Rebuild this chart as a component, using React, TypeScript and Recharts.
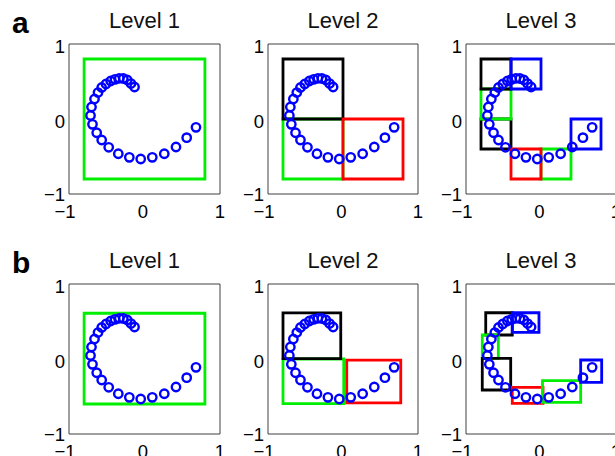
import React from 'react';
import { ScatterChart, Scatter, XAxis, YAxis, ReferenceArea } from 'recharts';

// ---- data ----
const spiralX = [-0.132, -0.179, -0.228, -0.281, -0.334, -0.391, -0.448, -0.51, -0.567, -0.616, -0.662, -0.702, -0.715, -0.689, -0.633, -0.567, -0.474, -0.347, -0.201, -0.05, 0.103, 0.262, 0.417, 0.559, 0.682];
const spiralY = [0.427, 0.473, 0.52, 0.54, 0.543, 0.529, 0.507, 0.467, 0.42, 0.353, 0.267, 0.16, 0.047, -0.071, -0.183, -0.28, -0.377, -0.463, -0.511, -0.533, -0.511, -0.463, -0.373, -0.249, -0.111];

const axisTicks = [-1, 0, 1];
const rowLabels = ['a', 'b'];
const levelTitles = ['Level 1', 'Level 2', 'Level 3'];

// boxes: [x1, x2, y1, y2]
const boxesA1 = [[-0.8, 0.8, -0.8, 0.8]];
const colorsA1 = ['green'];
const boxesA2 = [[-0.8, 0, -0.8, 0], [-0.8, 0, 0, 0.8], [0, 0.8, -0.8, 0]];
const colorsA2 = ['green', 'black', 'red'];
const boxesA3 = [[-0.8, -0.4, -0.4, 0], [-0.8, -0.4, 0, 0.4], [-0.8, -0.4, 0.4, 0.8], [-0.4, 0, 0.4, 0.8], [0, 0.4, -0.8, -0.4], [-0.4, 0, -0.8, -0.4], [0.4, 0.8, -0.4, 0]];
const colorsA3 = ['black', 'green', 'black', 'blue', 'green', 'red', 'blue'];

const boxesB1 = [[-0.8, 0.8, -0.6, 0.61]];
const colorsB1 = ['green'];
const boxesB2 = [[-0.8, 0.01, -0.595, 0], [-0.8, -0.03, 0.005, 0.615], [0.05, 0.77, -0.585, -0.015]];
const colorsB2 = ['green', 'black', 'red'];
const boxesB3 = [[-0.737, -0.383, 0.32, 0.617], [-0.383, -0.027, 0.356, 0.617], [-0.783, -0.569, 0.009, 0.32], [-0.783, -0.404, -0.413, 0.009], [-0.383, 0.027, -0.591, -0.377], [0.02, 0.529, -0.577, -0.289], [0.529, 0.809, -0.311, -0.013]];
const colorsB3 = ['black', 'blue', 'green', 'black', 'red', 'green', 'blue'];

// ---- styles ----
const FONT = '"Liberation Sans", Arial, Helvetica, sans-serif';
const AXIS_COLOR = '#404040';
const COLOR_MAP: Record<string, string> = { green: '#00ee00', black: '#000000', red: '#ff0000', blue: '#0000ff' };

const fmt = (v: number) => (v < 0 ? '\u2212' + Math.abs(v) : String(v));

function XTick(props: any) {
  const { x, y, payload } = props;
  const v = payload.value;
  const dx = v === -1 ? -4 : v === 0 ? -1.5 : 0;
  return (
    <text x={x + dx} y={y + 23.5} textAnchor="middle" fontSize={18.5} fontFamily={FONT} fill="#000">
      {fmt(v)}
    </text>
  );
}

function YTick(props: any) {
  const { x, y, payload } = props;
  const v = payload.value;
  const dy = v === -1 ? 6.5 : 9;
  return (
    <text x={x - 4} y={y + dy} textAnchor="end" fontSize={18.5} fontFamily={FONT} fill="#000">
      {fmt(v)}
    </text>
  );
}

const Ring = (p: any) => (
  <circle cx={p.cx} cy={p.cy} r={4.2} fill="none" stroke="#0000ff" strokeWidth={2.4} />
);

const PLOT_H = 150;
const ML = 50, MT = 10, MR = 10, XH = 30;

function Panel({ left, top, width, boxes, colors }: any) {
  const data = spiralX.map((x, i) => ({ x, y: spiralY[i] }));
  return (
    <div style={{ position: 'absolute', left: left - ML, top: top - MT }}>
      <ScatterChart width={ML + width + MR} height={MT + PLOT_H + XH} margin={{ top: MT, right: MR, bottom: 0, left: 0 }}>
        <XAxis type="number" dataKey="x" domain={[-1, 1]} ticks={axisTicks} allowDataOverflow interval={0}
          tick={<XTick />} tickLine={false} tickSize={0} tickMargin={0} height={XH} axisLine={{ stroke: AXIS_COLOR }} />
        <XAxis xAxisId="xm" type="number" orientation="bottom" mirror domain={[-1, 1]} ticks={axisTicks} allowDataOverflow interval={0}
          tick={false} tickLine={{ stroke: AXIS_COLOR }} tickSize={4} axisLine={false} height={XH} />
        <XAxis xAxisId="xt" type="number" orientation="top" mirror domain={[-1, 1]} ticks={axisTicks} allowDataOverflow interval={0}
          tick={false} tickLine={{ stroke: AXIS_COLOR }} tickSize={4} axisLine={{ stroke: AXIS_COLOR }} height={XH} />
        <YAxis type="number" dataKey="y" domain={[-1, 1]} ticks={axisTicks} allowDataOverflow interval={0}
          tick={<YTick />} tickLine={false} tickSize={0} tickMargin={0} width={ML} axisLine={{ stroke: AXIS_COLOR }} />
        <YAxis yAxisId="ym" type="number" orientation="left" mirror domain={[-1, 1]} ticks={axisTicks} allowDataOverflow interval={0}
          tick={false} tickLine={{ stroke: AXIS_COLOR }} tickSize={4} axisLine={false} width={ML} />
        <YAxis yAxisId="yr" type="number" orientation="right" mirror domain={[-1, 1]} ticks={axisTicks} allowDataOverflow interval={0}
          tick={false} tickLine={{ stroke: AXIS_COLOR }} tickSize={4} axisLine={{ stroke: AXIS_COLOR }} width={ML} />
        {boxes.map((b: number[], i: number) => (
          <ReferenceArea key={i} x1={b[0]} x2={b[1]} y1={b[2]} y2={b[3]} fill="none" fillOpacity={0}
            stroke={COLOR_MAP[colors[i]]} strokeWidth={2.8} strokeOpacity={1} ifOverflow="visible" />
        ))}
        <Scatter data={data} dataKey="y" shape={Ring} isAnimationActive={false} />
      </ScatterChart>
    </div>
  );
}

const colLefts = [69, 268, 466];
const colWidths = [151, 150, 150];
const rowTops = [44, 284];
const panelBoxes = [[boxesA1, boxesA2, boxesA3], [boxesB1, boxesB2, boxesB3]];
const panelColors = [[colorsA1, colorsA2, colorsA3], [colorsB1, colorsB2, colorsB3]];

export default function App() {
  return (
    <div style={{ position: 'absolute', left: 0, top: 0, width: 615, height: 456, background: '#fff', overflow: 'hidden' }}>
      {rowTops.map((top, r) =>
        colLefts.map((left, c) => (
          <Panel key={`${r}-${c}`} left={left} top={top} width={colWidths[c]}
            boxes={panelBoxes[r][c]} colors={panelColors[r][c]} />
        ))
      )}
      <svg width={615} height={456} style={{ position: 'absolute', left: 0, top: 0, pointerEvents: 'none' }}>
        {rowTops.map((top, r) => (
          <g key={r}>
            <text x={12} y={top - 11.5} fontSize={30} fontWeight="bold" fontFamily={FONT} fill="#000">{rowLabels[r]}</text>
            {colLefts.map((left, c) => (
              <text key={c} x={left + colWidths[c] / 2} y={top - 16} textAnchor="middle" fontSize={22} fontFamily={FONT} fill="#111">
                {levelTitles[c]}
              </text>
            ))}
          </g>
        ))}
      </svg>
    </div>
  );
}
